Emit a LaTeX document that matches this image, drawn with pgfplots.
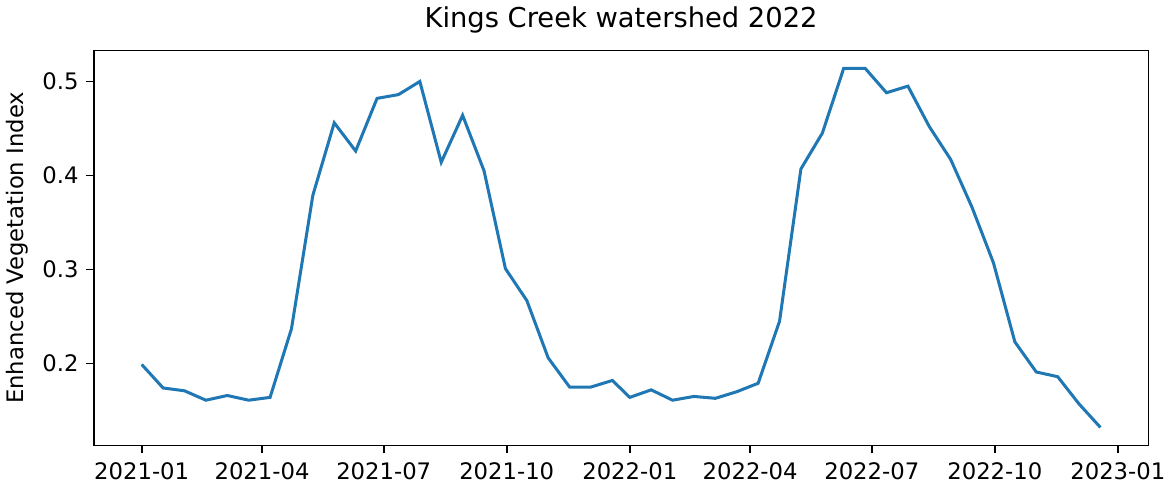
\documentclass[border=0pt]{standalone}
\usepackage{fontspec}
\setmainfont{DejaVu Sans}
\usepackage{pgfplots}
\pgfplotsset{compat=1.18}
\definecolor{tabblue}{HTML}{1F77B4}

% days since 2021-01-01, 16-day composites
\pgfplotstableread{
day evi
0   0.199
16  0.174
32  0.171
48  0.161
64  0.166
80  0.161
96  0.164
112 0.237
128 0.379
144 0.456
160 0.426
176 0.482
192 0.486
208 0.500
224 0.414
240 0.464
256 0.405
272 0.301
288 0.267
304 0.206
320 0.175
336 0.175
352 0.182
365 0.164
381 0.172
397 0.161
413 0.165
429 0.163
445 0.170
461 0.179
477 0.245
493 0.407
509 0.445
525 0.514
541 0.514
557 0.488
573 0.495
589 0.452
605 0.417
621 0.366
637 0.307
653 0.223
669 0.191
685 0.186
701 0.157
717 0.132
}\evi

\begin{document}
\begin{tikzpicture}
\begin{axis}[
  scale only axis,
  width=524.5pt, height=196.5pt,
  xmin=-35.85, xmax=752.85,
  ymin=0.1129, ymax=0.5331,
  xtick={0,90,181,273,365,455,546,638,730},
  xticklabels={2021-01,2021-04,2021-07,2021-10,2022-01,2022-04,2022-07,2022-10,2023-01},
  ytick={0.2,0.3,0.4,0.5},
  yticklabel style={/pgf/number format/.cd,fixed,precision=1},
  /pgf/number format/assume math mode=true,
  tick align=outside, tick pos=left,
  major tick length=4pt,
  tick style={black, line width=0.8pt},
  axis line style={line width=0.8pt},
  tick label style={font=\fontsize{11.3}{13}\selectfont},
  xticklabel style={yshift=-1pt},
  ylabel={Enhanced Vegetation Index},
  ylabel style={font=\fontsize{11.3}{13}\selectfont},
  title={Kings Creek watershed 2022},
  title style={font=\fontsize{13.6}{16}\selectfont, yshift=-1pt},
]
\addplot[tabblue, line width=1.5pt, no marks] table[x=day, y=evi] {\evi};
\end{axis}
\end{tikzpicture}
\end{document}
